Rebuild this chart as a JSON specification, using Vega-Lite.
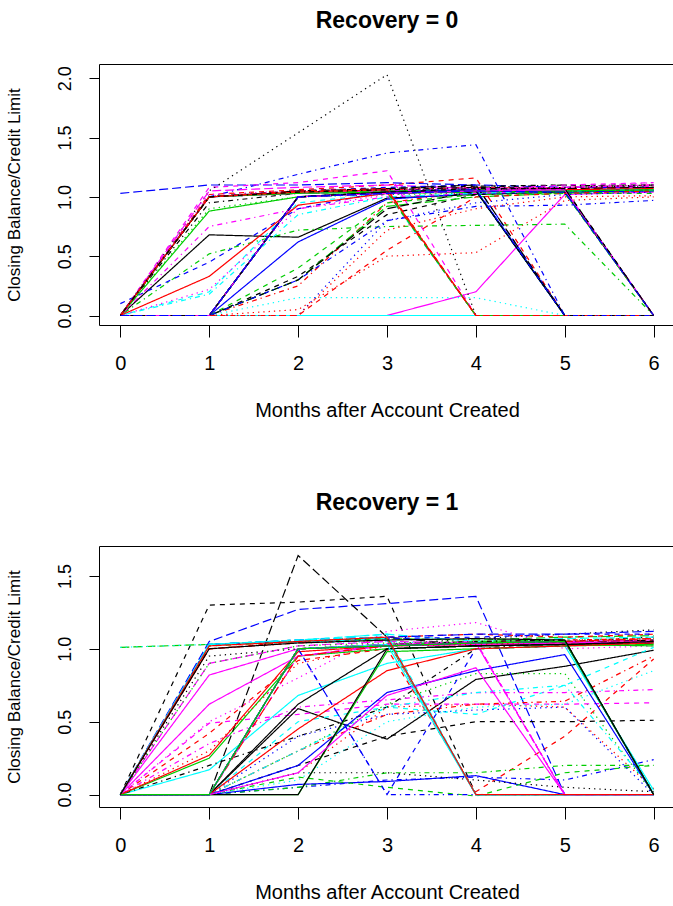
{
  "$schema": "https://vega.github.io/schema/vega-lite/v6.json",
  "background": "white",
  "padding": {"top": 9, "left": 4, "right": 0, "bottom": 0},
  "spacing": 70,
  "config": {
    "font": "Liberation Sans",
    "view": {"stroke": "black", "strokeWidth": 1},
    "title": {"font": "Liberation Sans", "fontSize": 23, "fontWeight": "bold", "color": "black", "offset": 31},
    "axis": {
      "grid": false,
      "domain": false,
      "tickColor": "black",
      "tickWidth": 1,
      "labelColor": "black",
      "titleColor": "black",
      "labelFont": "Liberation Sans",
      "titleFont": "Liberation Sans",
      "titleFontWeight": "normal",
      "labelOverlap": false,
      "labelFlush": false,
      "labelBound": false
    },
    "axisX": {"tickSize": 12, "labelFontSize": 20, "labelPadding": 16, "titleFontSize": 20, "titlePadding": 27},
    "axisY": {"tickSize": 10, "labelFontSize": 18, "labelPadding": 15, "labelAngle": -90, "labelAlign": "center", "labelBaseline": "bottom", "titleFontSize": 17, "titlePadding": 33}
  },
  "datasets": {
    "rec0": [
      {"id":1,"m":0,"v":0},{"id":1,"m":1,"v":0.68},{"id":1,"m":2,"v":0.66},{"id":1,"m":3,"v":0.99},{"id":1,"m":4,"v":1.02},{"id":1,"m":5,"v":1.04},{"id":1,"m":6,"v":1.06},
      {"id":2,"m":0,"v":0},{"id":2,"m":1,"v":1.02},{"id":2,"m":2,"v":1.06},{"id":2,"m":3,"v":1.1},{"id":2,"m":4,"v":1.16},{"id":2,"m":5,"v":0},{"id":2,"m":6,"v":0},
      {"id":3,"m":0,"v":0},{"id":3,"m":1,"v":0.9},{"id":3,"m":2,"v":1.0},{"id":3,"m":3,"v":1.02},{"id":3,"m":4,"v":1.03},{"id":3,"m":5,"v":1.04},{"id":3,"m":6,"v":1.05},
      {"id":4,"m":0,"v":0},{"id":4,"m":1,"v":1.0},{"id":4,"m":2,"v":1.19},{"id":4,"m":3,"v":1.37},{"id":4,"m":4,"v":1.44},{"id":4,"m":5,"v":0},{"id":4,"m":6,"v":0},
      {"id":5,"m":0,"v":0},{"id":5,"m":1,"v":1.0},{"id":5,"m":2,"v":1.03},{"id":5,"m":3,"v":1.04},{"id":5,"m":4,"v":0},{"id":5,"m":5,"v":0},{"id":5,"m":6,"v":0},
      {"id":6,"m":0,"v":0},{"id":6,"m":1,"v":0},{"id":6,"m":2,"v":0},{"id":6,"m":3,"v":0},{"id":6,"m":4,"v":0.2},{"id":6,"m":5,"v":1.02},{"id":6,"m":6,"v":1.04},
      {"id":7,"m":0,"v":0},{"id":7,"m":1,"v":0},{"id":7,"m":2,"v":0.33},{"id":7,"m":3,"v":0.85},{"id":7,"m":4,"v":1.02},{"id":7,"m":5,"v":1.05},{"id":7,"m":6,"v":1.1},
      {"id":8,"m":0,"v":0},{"id":8,"m":1,"v":0},{"id":8,"m":2,"v":0.05},{"id":8,"m":3,"v":0.5},{"id":8,"m":4,"v":0.53},{"id":8,"m":5,"v":0.97},{"id":8,"m":6,"v":1.0},
      {"id":9,"m":0,"v":0},{"id":9,"m":1,"v":0.52},{"id":9,"m":2,"v":0.72},{"id":9,"m":3,"v":0.75},{"id":9,"m":4,"v":0.76},{"id":9,"m":5,"v":0.77},{"id":9,"m":6,"v":0},
      {"id":10,"m":0,"v":1.03},{"id":10,"m":1,"v":1.1},{"id":10,"m":2,"v":1.1},{"id":10,"m":3,"v":1.12},{"id":10,"m":4,"v":1.1},{"id":10,"m":5,"v":1.08},{"id":10,"m":6,"v":1.08},
      {"id":11,"m":0,"v":0},{"id":11,"m":1,"v":0},{"id":11,"m":2,"v":0},{"id":11,"m":3,"v":0},{"id":11,"m":4,"v":0},{"id":11,"m":5,"v":0},{"id":11,"m":6,"v":0},
      {"id":12,"m":0,"v":0},{"id":12,"m":1,"v":1.08},{"id":12,"m":2,"v":1.12},{"id":12,"m":3,"v":1.22},{"id":12,"m":4,"v":0},{"id":12,"m":5,"v":0},{"id":12,"m":6,"v":0},
      {"id":13,"m":0,"v":0},{"id":13,"m":1,"v":1.05},{"id":13,"m":2,"v":1.54},{"id":13,"m":3,"v":2.03},{"id":13,"m":4,"v":0},{"id":13,"m":5,"v":0},{"id":13,"m":6,"v":0},
      {"id":14,"m":0,"v":0},{"id":14,"m":1,"v":0},{"id":14,"m":2,"v":0.25},{"id":14,"m":3,"v":0.95},{"id":14,"m":4,"v":1.05},{"id":14,"m":5,"v":1.08},{"id":14,"m":6,"v":1.1},
      {"id":15,"m":0,"v":0},{"id":15,"m":1,"v":0},{"id":15,"m":2,"v":0.3},{"id":15,"m":3,"v":0.92},{"id":15,"m":4,"v":1.0},{"id":15,"m":5,"v":1.03},{"id":15,"m":6,"v":1.05},
      {"id":16,"m":0,"v":0},{"id":16,"m":1,"v":0},{"id":16,"m":2,"v":0.62},{"id":16,"m":3,"v":0.98},{"id":16,"m":4,"v":1.03},{"id":16,"m":5,"v":1.04},{"id":16,"m":6,"v":1.05},
      {"id":17,"m":0,"v":0},{"id":17,"m":1,"v":0.2},{"id":17,"m":2,"v":0.95},{"id":17,"m":3,"v":1.03},{"id":17,"m":4,"v":1.05},{"id":17,"m":5,"v":1.06},{"id":17,"m":6,"v":1.07},
      {"id":18,"m":0,"v":0},{"id":18,"m":1,"v":0.22},{"id":18,"m":2,"v":0.9},{"id":18,"m":3,"v":1.02},{"id":18,"m":4,"v":1.05},{"id":18,"m":5,"v":1.08},{"id":18,"m":6,"v":1.12},
      {"id":19,"m":0,"v":0},{"id":19,"m":1,"v":0.95},{"id":19,"m":2,"v":1.03},{"id":19,"m":3,"v":1.05},{"id":19,"m":4,"v":1.08},{"id":19,"m":5,"v":1.1},{"id":19,"m":6,"v":1.08},
      {"id":20,"m":0,"v":0},{"id":20,"m":1,"v":1.0},{"id":20,"m":2,"v":1.04},{"id":20,"m":3,"v":1.06},{"id":20,"m":4,"v":1.08},{"id":20,"m":5,"v":1.07},{"id":20,"m":6,"v":1.08},
      {"id":21,"m":0,"v":0},{"id":21,"m":1,"v":0.88},{"id":21,"m":2,"v":1.0},{"id":21,"m":3,"v":1.03},{"id":21,"m":4,"v":1.04},{"id":21,"m":5,"v":1.05},{"id":21,"m":6,"v":1.06},
      {"id":22,"m":0,"v":0.1},{"id":22,"m":1,"v":0.45},{"id":22,"m":2,"v":0.9},{"id":22,"m":3,"v":1.05},{"id":22,"m":4,"v":1.07},{"id":22,"m":5,"v":1.05},{"id":22,"m":6,"v":1.07},
      {"id":23,"m":0,"v":0},{"id":23,"m":1,"v":0},{"id":23,"m":2,"v":0.15},{"id":23,"m":3,"v":0.15},{"id":23,"m":4,"v":0.15},{"id":23,"m":5,"v":0},{"id":23,"m":6,"v":0},
      {"id":24,"m":0,"v":0},{"id":24,"m":1,"v":0.75},{"id":24,"m":2,"v":0.9},{"id":24,"m":3,"v":1.0},{"id":24,"m":4,"v":1.03},{"id":24,"m":5,"v":1.05},{"id":24,"m":6,"v":1.09},
      {"id":25,"m":0,"v":0},{"id":25,"m":1,"v":0},{"id":25,"m":2,"v":0.3},{"id":25,"m":3,"v":0.9},{"id":25,"m":4,"v":1.05},{"id":25,"m":5,"v":1.07},{"id":25,"m":6,"v":1.08},
      {"id":26,"m":0,"v":0},{"id":26,"m":1,"v":0.33},{"id":26,"m":2,"v":0.93},{"id":26,"m":3,"v":1.03},{"id":26,"m":4,"v":1.05},{"id":26,"m":5,"v":1.06},{"id":26,"m":6,"v":1.07},
      {"id":27,"m":0,"v":0},{"id":27,"m":1,"v":0},{"id":27,"m":2,"v":0.4},{"id":27,"m":3,"v":0.95},{"id":27,"m":4,"v":1.02},{"id":27,"m":5,"v":1.03},{"id":27,"m":6,"v":1.03},
      {"id":28,"m":0,"v":0},{"id":28,"m":1,"v":0},{"id":28,"m":2,"v":0},{"id":28,"m":3,"v":0.8},{"id":28,"m":4,"v":0.95},{"id":28,"m":5,"v":1.02},{"id":28,"m":6,"v":1.04},
      {"id":29,"m":0,"v":0},{"id":29,"m":1,"v":0.18},{"id":29,"m":2,"v":0.85},{"id":29,"m":3,"v":1.0},{"id":29,"m":4,"v":1.03},{"id":29,"m":5,"v":1.05},{"id":29,"m":6,"v":1.06},
      {"id":30,"m":0,"v":0},{"id":30,"m":1,"v":1.05},{"id":30,"m":2,"v":1.08},{"id":30,"m":3,"v":1.1},{"id":30,"m":4,"v":1.07},{"id":30,"m":5,"v":1.08},{"id":30,"m":6,"v":1.1},
      {"id":31,"m":0,"v":0},{"id":31,"m":1,"v":0},{"id":31,"m":2,"v":1.0},{"id":31,"m":3,"v":1.03},{"id":31,"m":4,"v":1.05},{"id":31,"m":5,"v":1.04},{"id":31,"m":6,"v":0},
      {"id":32,"m":0,"v":0},{"id":32,"m":1,"v":0},{"id":32,"m":2,"v":0},{"id":32,"m":3,"v":0.55},{"id":32,"m":4,"v":1.0},{"id":32,"m":5,"v":1.03},{"id":32,"m":6,"v":1.05},
      {"id":33,"m":0,"v":0},{"id":33,"m":1,"v":1.0},{"id":33,"m":2,"v":1.04},{"id":33,"m":3,"v":1.05},{"id":33,"m":4,"v":0},{"id":33,"m":5,"v":0},{"id":33,"m":6,"v":0},
      {"id":34,"m":0,"v":0},{"id":34,"m":1,"v":0},{"id":34,"m":2,"v":0.3},{"id":34,"m":3,"v":0.8},{"id":34,"m":4,"v":0.92},{"id":34,"m":5,"v":0.93},{"id":34,"m":6,"v":0.97},
      {"id":35,"m":0,"v":0},{"id":35,"m":1,"v":0},{"id":35,"m":2,"v":1.0},{"id":35,"m":3,"v":1.04},{"id":35,"m":4,"v":1.06},{"id":35,"m":5,"v":0},{"id":35,"m":6,"v":0},
      {"id":36,"m":0,"v":0},{"id":36,"m":1,"v":1.0},{"id":36,"m":2,"v":1.03},{"id":36,"m":3,"v":1.05},{"id":36,"m":4,"v":1.06},{"id":36,"m":5,"v":1.06},{"id":36,"m":6,"v":0},
      {"id":37,"m":0,"v":0},{"id":37,"m":1,"v":1.0},{"id":37,"m":2,"v":1.05},{"id":37,"m":3,"v":1.07},{"id":37,"m":4,"v":1.09},{"id":37,"m":5,"v":1.1},{"id":37,"m":6,"v":1.1},
      {"id":38,"m":0,"v":0},{"id":38,"m":1,"v":0},{"id":38,"m":2,"v":0},{"id":38,"m":3,"v":0.72},{"id":38,"m":4,"v":0.9},{"id":38,"m":5,"v":1.0},{"id":38,"m":6,"v":1.01},
      {"id":39,"m":0,"v":0},{"id":39,"m":1,"v":1.0},{"id":39,"m":2,"v":1.03},{"id":39,"m":3,"v":1.04},{"id":39,"m":4,"v":1.05},{"id":39,"m":5,"v":1.03},{"id":39,"m":6,"v":0},
      {"id":40,"m":0,"v":0},{"id":40,"m":1,"v":0},{"id":40,"m":2,"v":1.0},{"id":40,"m":3,"v":1.04},{"id":40,"m":4,"v":1.06},{"id":40,"m":5,"v":0},{"id":40,"m":6,"v":0},
      {"id":41,"m":0,"v":0},{"id":41,"m":1,"v":0},{"id":41,"m":2,"v":1.0},{"id":41,"m":3,"v":1.03},{"id":41,"m":4,"v":1.05},{"id":41,"m":5,"v":0},{"id":41,"m":6,"v":0},
      {"id":42,"m":0,"v":0},{"id":42,"m":1,"v":1.0},{"id":42,"m":2,"v":1.03},{"id":42,"m":3,"v":1.05},{"id":42,"m":4,"v":1.06},{"id":42,"m":5,"v":1.1},{"id":42,"m":6,"v":1.12},
      {"id":43,"m":0,"v":0},{"id":43,"m":1,"v":0},{"id":43,"m":2,"v":1.0},{"id":43,"m":3,"v":1.03},{"id":43,"m":4,"v":1.06},{"id":43,"m":5,"v":1.08},{"id":43,"m":6,"v":1.1},
      {"id":44,"m":0,"v":0},{"id":44,"m":1,"v":1.0},{"id":44,"m":2,"v":1.04},{"id":44,"m":3,"v":1.06},{"id":44,"m":4,"v":0},{"id":44,"m":5,"v":0},{"id":44,"m":6,"v":0},
      {"id":45,"m":0,"v":0},{"id":45,"m":1,"v":1.0},{"id":45,"m":2,"v":1.04},{"id":45,"m":3,"v":1.05},{"id":45,"m":4,"v":1.06},{"id":45,"m":5,"v":1.04},{"id":45,"m":6,"v":0},
      {"id":46,"m":0,"v":0},{"id":46,"m":1,"v":0},{"id":46,"m":2,"v":1.0},{"id":46,"m":3,"v":1.04},{"id":46,"m":4,"v":1.06},{"id":46,"m":5,"v":0},{"id":46,"m":6,"v":0},
      {"id":47,"m":0,"v":0},{"id":47,"m":1,"v":0},{"id":47,"m":2,"v":1.0},{"id":47,"m":3,"v":1.03},{"id":47,"m":4,"v":0},{"id":47,"m":5,"v":0},{"id":47,"m":6,"v":0},
      {"id":48,"m":0,"v":0},{"id":48,"m":1,"v":1.02},{"id":48,"m":2,"v":1.05},{"id":48,"m":3,"v":1.06},{"id":48,"m":4,"v":1.07},{"id":48,"m":5,"v":1.08},{"id":48,"m":6,"v":1.1},
      {"id":49,"m":0,"v":0},{"id":49,"m":1,"v":0},{"id":49,"m":2,"v":1.0},{"id":49,"m":3,"v":1.03},{"id":49,"m":4,"v":1.05},{"id":49,"m":5,"v":0},{"id":49,"m":6,"v":0},
      {"id":50,"m":0,"v":0},{"id":50,"m":1,"v":0},{"id":50,"m":2,"v":1.0},{"id":50,"m":3,"v":1.04},{"id":50,"m":4,"v":0},{"id":50,"m":5,"v":0},{"id":50,"m":6,"v":0},
      {"id":51,"m":0,"v":0},{"id":51,"m":1,"v":1.0},{"id":51,"m":2,"v":1.03},{"id":51,"m":3,"v":1.04},{"id":51,"m":4,"v":1.05},{"id":51,"m":5,"v":1.05},{"id":51,"m":6,"v":1.06},
      {"id":52,"m":0,"v":0},{"id":52,"m":1,"v":1.0},{"id":52,"m":2,"v":1.05},{"id":52,"m":3,"v":1.08},{"id":52,"m":4,"v":1.1},{"id":52,"m":5,"v":0},{"id":52,"m":6,"v":0},
      {"id":55,"m":0,"v":0},{"id":55,"m":1,"v":1.0},{"id":55,"m":2,"v":1.05},{"id":55,"m":3,"v":1.07},{"id":55,"m":4,"v":1.1},{"id":55,"m":5,"v":0},{"id":55,"m":6,"v":0},
      {"id":56,"m":0,"v":0},{"id":56,"m":1,"v":1.0},{"id":56,"m":2,"v":1.04},{"id":56,"m":3,"v":1.06},{"id":56,"m":4,"v":0},{"id":56,"m":5,"v":0},{"id":56,"m":6,"v":0},
      {"id":57,"m":0,"v":0},{"id":57,"m":1,"v":0},{"id":57,"m":2,"v":1.0},{"id":57,"m":3,"v":1.04},{"id":57,"m":4,"v":0},{"id":57,"m":5,"v":0},{"id":57,"m":6,"v":0},
      {"id":58,"m":0,"v":0},{"id":58,"m":1,"v":0},{"id":58,"m":2,"v":1.0},{"id":58,"m":3,"v":1.03},{"id":58,"m":4,"v":1.05},{"id":58,"m":5,"v":0},{"id":58,"m":6,"v":0},
      {"id":61,"m":0,"v":0},{"id":61,"m":1,"v":0},{"id":61,"m":2,"v":1.0},{"id":61,"m":3,"v":1.04},{"id":61,"m":4,"v":1.05},{"id":61,"m":5,"v":0},{"id":61,"m":6,"v":0},
      {"id":62,"m":0,"v":0},{"id":62,"m":1,"v":1.0},{"id":62,"m":2,"v":1.05},{"id":62,"m":3,"v":1.07},{"id":62,"m":4,"v":0},{"id":62,"m":5,"v":0},{"id":62,"m":6,"v":0},
      {"id":64,"m":0,"v":0},{"id":64,"m":1,"v":0},{"id":64,"m":2,"v":1.0},{"id":64,"m":3,"v":1.03},{"id":64,"m":4,"v":1.06},{"id":64,"m":5,"v":0},{"id":64,"m":6,"v":0},
      {"id":66,"m":0,"v":0},{"id":66,"m":1,"v":0},{"id":66,"m":2,"v":1.0},{"id":66,"m":3,"v":1.03},{"id":66,"m":4,"v":1.05},{"id":66,"m":5,"v":1.06},{"id":66,"m":6,"v":0},
      {"id":67,"m":0,"v":0},{"id":67,"m":1,"v":0},{"id":67,"m":2,"v":1.0},{"id":67,"m":3,"v":1.04},{"id":67,"m":4,"v":1.07},{"id":67,"m":5,"v":1.07},{"id":67,"m":6,"v":0},
      {"id":70,"m":0,"v":0},{"id":70,"m":1,"v":0},{"id":70,"m":2,"v":1.0},{"id":70,"m":3,"v":1.03},{"id":70,"m":4,"v":1.05},{"id":70,"m":5,"v":1.04},{"id":70,"m":6,"v":0},
      {"id":79,"m":0,"v":0},{"id":79,"m":1,"v":1.0},{"id":79,"m":2,"v":1.04},{"id":79,"m":3,"v":1.06},{"id":79,"m":4,"v":1.08},{"id":79,"m":5,"v":1.07},{"id":79,"m":6,"v":0}
    ],
    "rec1": [
      {"id":1,"m":0,"v":0},{"id":1,"m":1,"v":0},{"id":1,"m":2,"v":0.59},{"id":1,"m":3,"v":0.38},{"id":1,"m":4,"v":0.79},{"id":1,"m":5,"v":0.88},{"id":1,"m":6,"v":0.99},
      {"id":2,"m":0,"v":0},{"id":2,"m":1,"v":0.42},{"id":2,"m":2,"v":0.92},{"id":2,"m":3,"v":1.0},{"id":2,"m":4,"v":0.02},{"id":2,"m":5,"v":0.4},{"id":2,"m":6,"v":0.93},
      {"id":3,"m":0,"v":0},{"id":3,"m":1,"v":0},{"id":3,"m":2,"v":0.3},{"id":3,"m":3,"v":0.62},{"id":3,"m":4,"v":0.83},{"id":3,"m":5,"v":0.83},{"id":3,"m":6,"v":0},
      {"id":4,"m":0,"v":0},{"id":4,"m":1,"v":0},{"id":4,"m":2,"v":0.05},{"id":4,"m":3,"v":0.1},{"id":4,"m":4,"v":0.12},{"id":4,"m":5,"v":0.1},{"id":4,"m":6,"v":0.24},
      {"id":5,"m":0,"v":0},{"id":5,"m":1,"v":1.03},{"id":5,"m":2,"v":1.06},{"id":5,"m":3,"v":1.08},{"id":5,"m":4,"v":0},{"id":5,"m":5,"v":0},{"id":5,"m":6,"v":0},
      {"id":6,"m":0,"v":0},{"id":6,"m":1,"v":0.82},{"id":6,"m":2,"v":1.0},{"id":6,"m":3,"v":1.03},{"id":6,"m":4,"v":1.04},{"id":6,"m":5,"v":1.05},{"id":6,"m":6,"v":1.06},
      {"id":7,"m":0,"v":0},{"id":7,"m":1,"v":1.3},{"id":7,"m":2,"v":1.32},{"id":7,"m":3,"v":1.36},{"id":7,"m":4,"v":0},{"id":7,"m":5,"v":0},{"id":7,"m":6,"v":0},
      {"id":8,"m":0,"v":0},{"id":8,"m":1,"v":0},{"id":8,"m":2,"v":0.15},{"id":8,"m":3,"v":0.6},{"id":8,"m":4,"v":0.62},{"id":8,"m":5,"v":0.6},{"id":8,"m":6,"v":0.04},
      {"id":9,"m":0,"v":0},{"id":9,"m":1,"v":0},{"id":9,"m":2,"v":0.05},{"id":9,"m":3,"v":0.15},{"id":9,"m":4,"v":0.15},{"id":9,"m":5,"v":0.2},{"id":9,"m":6,"v":0.2},
      {"id":10,"m":0,"v":0},{"id":10,"m":1,"v":1.05},{"id":10,"m":2,"v":1.27},{"id":10,"m":3,"v":1.31},{"id":10,"m":4,"v":1.36},{"id":10,"m":5,"v":0},{"id":10,"m":6,"v":0},
      {"id":11,"m":0,"v":0},{"id":11,"m":1,"v":0.17},{"id":11,"m":2,"v":0.68},{"id":11,"m":3,"v":0.9},{"id":11,"m":4,"v":1.0},{"id":11,"m":5,"v":1.02},{"id":11,"m":6,"v":0.03},
      {"id":12,"m":0,"v":0},{"id":12,"m":1,"v":0.49},{"id":12,"m":2,"v":0.55},{"id":12,"m":3,"v":0.62},{"id":12,"m":4,"v":0.62},{"id":12,"m":5,"v":0.62},{"id":12,"m":6,"v":0.63},
      {"id":13,"m":0,"v":0},{"id":13,"m":1,"v":0.95},{"id":13,"m":2,"v":1.0},{"id":13,"m":3,"v":1.03},{"id":13,"m":4,"v":1.07},{"id":13,"m":5,"v":1.1},{"id":13,"m":6,"v":1.13},
      {"id":14,"m":0,"v":0},{"id":14,"m":1,"v":0},{"id":14,"m":2,"v":0.3},{"id":14,"m":3,"v":0.55},{"id":14,"m":4,"v":0.62},{"id":14,"m":5,"v":0.64},{"id":14,"m":6,"v":0.95},
      {"id":15,"m":0,"v":1.01},{"id":15,"m":1,"v":1.03},{"id":15,"m":2,"v":1.05},{"id":15,"m":3,"v":1.07},{"id":15,"m":4,"v":1.06},{"id":15,"m":5,"v":1.08},{"id":15,"m":6,"v":1.09},
      {"id":16,"m":0,"v":0},{"id":16,"m":1,"v":0},{"id":16,"m":2,"v":0.07},{"id":16,"m":3,"v":0.09},{"id":16,"m":4,"v":0.13},{"id":16,"m":5,"v":0},{"id":16,"m":6,"v":0},
      {"id":17,"m":0,"v":0},{"id":17,"m":1,"v":0},{"id":17,"m":2,"v":0.5},{"id":17,"m":3,"v":0.6},{"id":17,"m":4,"v":0.55},{"id":17,"m":5,"v":0.75},{"id":17,"m":6,"v":1.01},
      {"id":18,"m":0,"v":0},{"id":18,"m":1,"v":0.5},{"id":18,"m":2,"v":0.8},{"id":18,"m":3,"v":1.12},{"id":18,"m":4,"v":1.18},{"id":18,"m":5,"v":1.0},{"id":18,"m":6,"v":1.02},
      {"id":19,"m":0,"v":0},{"id":19,"m":1,"v":0.2},{"id":19,"m":2,"v":0.4},{"id":19,"m":3,"v":0.6},{"id":19,"m":4,"v":1.0},{"id":19,"m":5,"v":1.05},{"id":19,"m":6,"v":1.08},
      {"id":20,"m":0,"v":0},{"id":20,"m":1,"v":1.0},{"id":20,"m":2,"v":1.04},{"id":20,"m":3,"v":1.06},{"id":20,"m":4,"v":0},{"id":20,"m":5,"v":0},{"id":20,"m":6,"v":0},
      {"id":21,"m":0,"v":0},{"id":21,"m":1,"v":0.25},{"id":21,"m":2,"v":0.95},{"id":21,"m":3,"v":1.0},{"id":21,"m":4,"v":1.02},{"id":21,"m":5,"v":1.03},{"id":21,"m":6,"v":1.02},
      {"id":22,"m":0,"v":0},{"id":22,"m":1,"v":0},{"id":22,"m":2,"v":1.0},{"id":22,"m":3,"v":0},{"id":22,"m":4,"v":1.0},{"id":22,"m":5,"v":1.02},{"id":22,"m":6,"v":1.04},
      {"id":23,"m":0,"v":1.01},{"id":23,"m":1,"v":1.03},{"id":23,"m":2,"v":1.04},{"id":23,"m":3,"v":1.05},{"id":23,"m":4,"v":1.03},{"id":23,"m":5,"v":1.05},{"id":23,"m":6,"v":1.06},
      {"id":24,"m":0,"v":0},{"id":24,"m":1,"v":0.35},{"id":24,"m":2,"v":0.6},{"id":24,"m":3,"v":0.65},{"id":24,"m":4,"v":0.7},{"id":24,"m":5,"v":0.7},{"id":24,"m":6,"v":0.72},
      {"id":25,"m":0,"v":0},{"id":25,"m":1,"v":0},{"id":25,"m":2,"v":1.64},{"id":25,"m":3,"v":1.08},{"id":25,"m":4,"v":1.02},{"id":25,"m":5,"v":1.04},{"id":25,"m":6,"v":1.06},
      {"id":26,"m":0,"v":0},{"id":26,"m":1,"v":0.27},{"id":26,"m":2,"v":0.98},{"id":26,"m":3,"v":1.02},{"id":26,"m":4,"v":1.03},{"id":26,"m":5,"v":1.04},{"id":26,"m":6,"v":1.05},
      {"id":27,"m":0,"v":0},{"id":27,"m":1,"v":0},{"id":27,"m":2,"v":0.12},{"id":27,"m":3,"v":0.05},{"id":27,"m":4,"v":-0.01},{"id":27,"m":5,"v":0.15},{"id":27,"m":6,"v":0.2},
      {"id":28,"m":0,"v":0},{"id":28,"m":1,"v":0},{"id":28,"m":2,"v":0.4},{"id":28,"m":3,"v":0.55},{"id":28,"m":4,"v":0.58},{"id":28,"m":5,"v":0.6},{"id":28,"m":6,"v":0},
      {"id":29,"m":0,"v":0},{"id":29,"m":1,"v":0},{"id":29,"m":2,"v":0.3},{"id":29,"m":3,"v":0.6},{"id":29,"m":4,"v":0.7},{"id":29,"m":5,"v":0.75},{"id":29,"m":6,"v":0.03},
      {"id":30,"m":0,"v":0},{"id":30,"m":1,"v":0.9},{"id":30,"m":2,"v":1.02},{"id":30,"m":3,"v":1.05},{"id":30,"m":4,"v":1.04},{"id":30,"m":5,"v":0},{"id":30,"m":6,"v":0},
      {"id":31,"m":0,"v":0},{"id":31,"m":1,"v":0},{"id":31,"m":2,"v":0.62},{"id":31,"m":3,"v":1.0},{"id":31,"m":4,"v":1.02},{"id":31,"m":5,"v":1.03},{"id":31,"m":6,"v":1.04},
      {"id":32,"m":0,"v":0},{"id":32,"m":1,"v":1.0},{"id":32,"m":2,"v":1.05},{"id":32,"m":3,"v":1.08},{"id":32,"m":4,"v":1.1},{"id":32,"m":5,"v":1.08},{"id":32,"m":6,"v":1.1},
      {"id":33,"m":0,"v":0},{"id":33,"m":1,"v":0.9},{"id":33,"m":2,"v":1.02},{"id":33,"m":3,"v":1.04},{"id":33,"m":4,"v":1.05},{"id":33,"m":5,"v":1.06},{"id":33,"m":6,"v":1.07},
      {"id":34,"m":0,"v":0},{"id":34,"m":1,"v":0},{"id":34,"m":2,"v":1.0},{"id":34,"m":3,"v":0},{"id":34,"m":4,"v":0},{"id":34,"m":5,"v":0},{"id":34,"m":6,"v":0},
      {"id":35,"m":0,"v":0},{"id":35,"m":1,"v":1.03},{"id":35,"m":2,"v":1.06},{"id":35,"m":3,"v":1.1},{"id":35,"m":4,"v":1.05},{"id":35,"m":5,"v":1.07},{"id":35,"m":6,"v":1.08},
      {"id":36,"m":0,"v":0},{"id":36,"m":1,"v":0.62},{"id":36,"m":2,"v":0.95},{"id":36,"m":3,"v":1.02},{"id":36,"m":4,"v":1.03},{"id":36,"m":5,"v":1.04},{"id":36,"m":6,"v":1.05},
      {"id":37,"m":0,"v":0},{"id":37,"m":1,"v":0},{"id":37,"m":2,"v":0.2},{"id":37,"m":3,"v":0.4},{"id":37,"m":4,"v":0.5},{"id":37,"m":5,"v":0.5},{"id":37,"m":6,"v":0.51},
      {"id":38,"m":0,"v":0},{"id":38,"m":1,"v":0.3},{"id":38,"m":2,"v":0.9},{"id":38,"m":3,"v":1.02},{"id":38,"m":4,"v":1.03},{"id":38,"m":5,"v":1.05},{"id":38,"m":6,"v":1.06},
      {"id":39,"m":0,"v":0},{"id":39,"m":1,"v":0},{"id":39,"m":2,"v":1.0},{"id":39,"m":3,"v":1.02},{"id":39,"m":4,"v":1.04},{"id":39,"m":5,"v":1.05},{"id":39,"m":6,"v":0},
      {"id":40,"m":0,"v":0},{"id":40,"m":1,"v":1.03},{"id":40,"m":2,"v":1.06},{"id":40,"m":3,"v":1.08},{"id":40,"m":4,"v":1.1},{"id":40,"m":5,"v":1.1},{"id":40,"m":6,"v":1.12},
      {"id":41,"m":0,"v":0},{"id":41,"m":1,"v":1.03},{"id":41,"m":2,"v":1.05},{"id":41,"m":3,"v":1.07},{"id":41,"m":4,"v":0},{"id":41,"m":5,"v":0},{"id":41,"m":6,"v":0},
      {"id":42,"m":0,"v":0},{"id":42,"m":1,"v":0},{"id":42,"m":2,"v":0.95},{"id":42,"m":3,"v":1.03},{"id":42,"m":4,"v":1.05},{"id":42,"m":5,"v":0},{"id":42,"m":6,"v":0},
      {"id":43,"m":0,"v":0},{"id":43,"m":1,"v":0},{"id":43,"m":2,"v":0.15},{"id":43,"m":3,"v":0.15},{"id":43,"m":4,"v":0.1},{"id":43,"m":5,"v":0.05},{"id":43,"m":6,"v":0.02},
      {"id":44,"m":0,"v":0},{"id":44,"m":1,"v":0},{"id":44,"m":2,"v":1.0},{"id":44,"m":3,"v":1.03},{"id":44,"m":4,"v":1.05},{"id":44,"m":5,"v":1.06},{"id":44,"m":6,"v":1.07},
      {"id":45,"m":0,"v":0},{"id":45,"m":1,"v":0},{"id":45,"m":2,"v":1.0},{"id":45,"m":3,"v":1.03},{"id":45,"m":4,"v":1.05},{"id":45,"m":5,"v":1.06},{"id":45,"m":6,"v":0},
      {"id":46,"m":0,"v":0},{"id":46,"m":1,"v":0},{"id":46,"m":2,"v":0.2},{"id":46,"m":3,"v":0.7},{"id":46,"m":4,"v":0.85},{"id":46,"m":5,"v":0.96},{"id":46,"m":6,"v":0},
      {"id":47,"m":0,"v":0},{"id":47,"m":1,"v":1.03},{"id":47,"m":2,"v":1.06},{"id":47,"m":3,"v":1.1},{"id":47,"m":4,"v":0},{"id":47,"m":5,"v":0},{"id":47,"m":6,"v":0},
      {"id":48,"m":0,"v":0},{"id":48,"m":1,"v":0},{"id":48,"m":2,"v":1.0},{"id":48,"m":3,"v":1.02},{"id":48,"m":4,"v":1.05},{"id":48,"m":5,"v":0},{"id":48,"m":6,"v":0},
      {"id":49,"m":0,"v":0},{"id":49,"m":1,"v":0},{"id":49,"m":2,"v":1.0},{"id":49,"m":3,"v":1.03},{"id":49,"m":4,"v":1.05},{"id":49,"m":5,"v":1.06},{"id":49,"m":6,"v":0},
      {"id":50,"m":0,"v":0},{"id":50,"m":1,"v":0},{"id":50,"m":2,"v":0.95},{"id":50,"m":3,"v":1.02},{"id":50,"m":4,"v":1.04},{"id":50,"m":5,"v":1.05},{"id":50,"m":6,"v":1.07},
      {"id":51,"m":0,"v":0},{"id":51,"m":1,"v":0},{"id":51,"m":2,"v":0},{"id":51,"m":3,"v":0.98},{"id":51,"m":4,"v":1.0},{"id":51,"m":5,"v":1.02},{"id":51,"m":6,"v":1.03},
      {"id":52,"m":0,"v":0},{"id":52,"m":1,"v":1.03},{"id":52,"m":2,"v":1.05},{"id":52,"m":3,"v":1.07},{"id":52,"m":4,"v":1.08},{"id":52,"m":5,"v":1.1},{"id":52,"m":6,"v":1.1},
      {"id":53,"m":0,"v":0},{"id":53,"m":1,"v":0},{"id":53,"m":2,"v":0.1},{"id":53,"m":3,"v":0.5},{"id":53,"m":4,"v":0.6},{"id":53,"m":5,"v":0.62},{"id":53,"m":6,"v":0.85},
      {"id":54,"m":0,"v":0},{"id":54,"m":1,"v":0},{"id":54,"m":2,"v":1.0},{"id":54,"m":3,"v":1.03},{"id":54,"m":4,"v":1.04},{"id":54,"m":5,"v":0},{"id":54,"m":6,"v":0},
      {"id":56,"m":0,"v":0},{"id":56,"m":1,"v":0},{"id":56,"m":2,"v":0.45},{"id":56,"m":3,"v":0.85},{"id":56,"m":4,"v":1.0},{"id":56,"m":5,"v":1.02},{"id":56,"m":6,"v":1.04},
      {"id":57,"m":0,"v":0},{"id":57,"m":1,"v":1.02},{"id":57,"m":2,"v":1.05},{"id":57,"m":3,"v":1.07},{"id":57,"m":4,"v":0},{"id":57,"m":5,"v":0},{"id":57,"m":6,"v":0},
      {"id":59,"m":0,"v":0},{"id":59,"m":1,"v":1.03},{"id":59,"m":2,"v":1.05},{"id":59,"m":3,"v":1.06},{"id":59,"m":4,"v":0},{"id":59,"m":5,"v":0},{"id":59,"m":6,"v":0},
      {"id":61,"m":0,"v":0},{"id":61,"m":1,"v":0},{"id":61,"m":2,"v":0},{"id":61,"m":3,"v":1.0},{"id":61,"m":4,"v":1.02},{"id":61,"m":5,"v":1.03},{"id":61,"m":6,"v":1.05},
      {"id":65,"m":0,"v":0},{"id":65,"m":1,"v":1.03},{"id":65,"m":2,"v":1.06},{"id":65,"m":3,"v":1.08},{"id":65,"m":4,"v":0},{"id":65,"m":5,"v":0},{"id":65,"m":6,"v":0},
      {"id":66,"m":0,"v":0},{"id":66,"m":1,"v":0},{"id":66,"m":2,"v":0.15},{"id":66,"m":3,"v":0.68},{"id":66,"m":4,"v":0.87},{"id":66,"m":5,"v":0},{"id":66,"m":6,"v":0},
      {"id":71,"m":0,"v":0},{"id":71,"m":1,"v":0},{"id":71,"m":2,"v":1.0},{"id":71,"m":3,"v":1.03},{"id":71,"m":4,"v":0},{"id":71,"m":5,"v":0},{"id":71,"m":6,"v":0},
      {"id":76,"m":0,"v":0},{"id":76,"m":1,"v":0},{"id":76,"m":2,"v":1.0},{"id":76,"m":3,"v":1.02},{"id":76,"m":4,"v":1.04},{"id":76,"m":5,"v":1.05},{"id":76,"m":6,"v":0},
      {"id":78,"m":0,"v":0},{"id":78,"m":1,"v":0},{"id":78,"m":2,"v":1.0},{"id":78,"m":3,"v":1.03},{"id":78,"m":4,"v":1.05},{"id":78,"m":5,"v":0},{"id":78,"m":6,"v":0},
      {"id":81,"m":0,"v":0},{"id":81,"m":1,"v":0},{"id":81,"m":2,"v":1.0},{"id":81,"m":3,"v":1.02},{"id":81,"m":4,"v":1.04},{"id":81,"m":5,"v":1.05},{"id":81,"m":6,"v":0},
      {"id":86,"m":0,"v":0},{"id":86,"m":1,"v":1.02},{"id":86,"m":2,"v":1.05},{"id":86,"m":3,"v":1.08},{"id":86,"m":4,"v":0},{"id":86,"m":5,"v":0},{"id":86,"m":6,"v":0},
      {"id":91,"m":0,"v":0},{"id":91,"m":1,"v":1.0},{"id":91,"m":2,"v":1.04},{"id":91,"m":3,"v":1.06},{"id":91,"m":4,"v":1.07},{"id":91,"m":5,"v":1.06},{"id":91,"m":6,"v":0}
    ]
  },
  "vconcat": [
    {
      "title": "Recovery = 0",
      "width": 576,
      "height": 261,
      "data": {"name": "rec0"},
      "transform": [
        {"calculate": "(datum.id - 1) % 6", "as": "col"},
        {"calculate": "(datum.id - 1) % 5", "as": "lty"}
      ],
      "mark": {"type": "line", "strokeWidth": 1.2},
      "encoding": {
        "x": {"field": "m", "type": "quantitative", "scale": {"domain": [-0.24, 6.24], "nice": false, "zero": false}, "axis": {"values": [0, 1, 2, 3, 4, 5, 6], "format": "d", "title": "Months after Account Created"}},
        "y": {"field": "v", "type": "quantitative", "scale": {"domain": [-0.08, 2.12], "nice": false, "zero": false}, "axis": {"values": [0, 0.5, 1, 1.5, 2], "format": ".1f", "title": "Closing Balance/Credit Limit"}},
        "detail": {"field": "id", "type": "nominal"},
        "color": {"field": "col", "type": "nominal", "scale": {"domain": [0, 1, 2, 3, 4, 5], "range": ["#000000", "#FF0000", "#00CD00", "#0000FF", "#00FFFF", "#FF00FF"]}, "legend": null},
        "strokeDash": {"field": "lty", "type": "nominal", "scale": {"domain": [0, 1, 2, 3, 4], "range": [[1, 0], [5, 5], [1.3, 4], [1.3, 4, 5, 4], [9, 4]]}, "legend": null}
      }
    },
    {
      "title": "Recovery = 1",
      "width": 576,
      "height": 261,
      "data": {"name": "rec1"},
      "transform": [
        {"calculate": "(datum.id - 1) % 6", "as": "col"},
        {"calculate": "(datum.id - 1) % 5", "as": "lty"}
      ],
      "mark": {"type": "line", "strokeWidth": 1.2},
      "encoding": {
        "x": {"field": "m", "type": "quantitative", "scale": {"domain": [-0.24, 6.24], "nice": false, "zero": false}, "axis": {"values": [0, 1, 2, 3, 4, 5, 6], "format": "d", "title": "Months after Account Created"}},
        "y": {"field": "v", "type": "quantitative", "scale": {"domain": [-0.085, 1.705], "nice": false, "zero": false}, "axis": {"values": [0, 0.5, 1, 1.5], "format": ".1f", "title": "Closing Balance/Credit Limit"}},
        "detail": {"field": "id", "type": "nominal"},
        "color": {"field": "col", "type": "nominal", "scale": {"domain": [0, 1, 2, 3, 4, 5], "range": ["#000000", "#FF0000", "#00CD00", "#0000FF", "#00FFFF", "#FF00FF"]}, "legend": null},
        "strokeDash": {"field": "lty", "type": "nominal", "scale": {"domain": [0, 1, 2, 3, 4], "range": [[1, 0], [5, 5], [1.3, 4], [1.3, 4, 5, 4], [9, 4]]}, "legend": null}
      }
    }
  ]
}
